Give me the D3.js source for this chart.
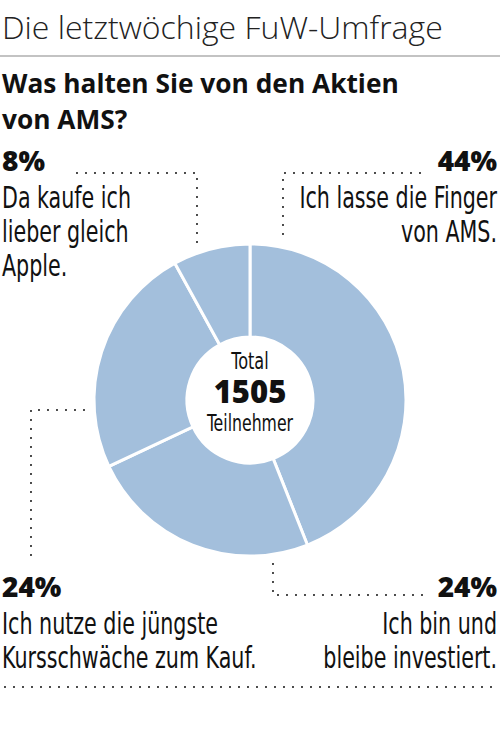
<!DOCTYPE html>
<html>
<head>
<meta charset="utf-8">
<script src="https://cdn.jsdelivr.net/npm/d3@7"></script>
<style>
  body { margin: 0; background: #fff; }
  .narrow { font-family: "Liberation Sans Narrow", "DejaVu Sans Condensed", sans-serif; fill: #111; }
  .pct { font-family: "Open Sans", sans-serif; font-weight: 800; fill: #111; }
</style>
</head>
<body>
<svg id="chart" width="500" height="735"></svg>
<script>
// data
var shares   = [44, 24, 24, 8];
var pctText  = ["44%", "24%", "24%", "8%"];
var answers  = [
    ["Ich lasse die Finger", "von AMS."],
    ["Ich bin und", "bleibe investiert."],
    ["Ich nutze die jüngste", "Kursschwäche zum Kauf."],
    ["Da kaufe ich", "lieber gleich", "Apple."]
];
var title    = "Die letztwöchige FuW-Umfrage";
var question = ["Was halten Sie von den Aktien", "von AMS?"];
var centre   = ["Total", "1505", "Teilnehmer"];

var width = 500, height = 735;
var svg = d3.select("#chart");

// narrow text: squeeze a regular face horizontally
function narrowText(parent, x, y, anchor, size, sx, str) {
    return parent.append("text")
        .attr("class", "narrow")
        .attr("transform", "translate(" + x + "," + y + ") scale(" + sx + ",1)")
        .attr("text-anchor", anchor)
        .style("font-size", size + "px")
        .text(str);
}

// header
svg.append("text")
    .attr("x", 2).attr("y", 39)
    .style("font-family", "'Open Sans', sans-serif")
    .style("font-weight", 300)
    .style("font-size", "32px")
    .style("fill", "#222")
    .text(title);

svg.append("line")
    .attr("x1", 0).attr("x2", width)
    .attr("y1", 56).attr("y2", 56)
    .style("stroke", "#888").style("stroke-width", 1.2);

question.forEach(function(q, i) {
    svg.append("text")
        .attr("x", 2).attr("y", 93 + i * 36)
        .style("font-family", "'Open Sans', sans-serif")
        .style("font-weight", 700)
        .style("font-size", "26.3px")
        .style("fill", "#111")
        .text(q);
});

// donut
var cx = 250, cy = 400;
var pie = d3.pie().sort(null).value(function(d) { return d; });
var arc = d3.arc().innerRadius(63).outerRadius(156);

var g = svg.append("g").attr("transform", "translate(" + cx + "," + cy + ")");
g.selectAll("path.slice")
    .data(pie(shares))
    .enter().append("path")
    .attr("class", "slice")
    .attr("d", arc)
    .style("fill", "#a3bfdc")
    .style("stroke", "#fff")
    .style("stroke-width", 3);

// centre text
narrowText(g, 0, -31, "middle", 23, 0.78, centre[0]);
g.append("text").attr("class", "pct").attr("text-anchor", "middle")
    .attr("y", 3).style("font-size", "31px").text(centre[1]);
narrowText(g, 0, 31, "middle", 23, 0.76, centre[2]);

// labels: side, x, y of percentage baseline
var labelPos = [
    { anchor: "end",   x: 497, y: 171 },
    { anchor: "end",   x: 497, y: 597 },
    { anchor: "start", x: 2,   y: 597 },
    { anchor: "start", x: 2,   y: 171 }
];

labelPos.forEach(function(p, i) {
    svg.append("text").attr("class", "pct")
        .attr("x", p.x).attr("y", p.y)
        .attr("text-anchor", p.anchor)
        .style("font-size", "28px")
        .text(pctText[i]);
    answers[i].forEach(function(line, j) {
        narrowText(svg, p.x, p.y + 37 + j * 34, p.anchor, 30, 0.765, line);
    });
});

// dotted leaders
function dotted(pts) {
    svg.append("path")
        .attr("d", d3.line()(pts))
        .style("fill", "none")
        .style("stroke", "#111")
        .style("stroke-width", 2)
        .style("stroke-linecap", "round")
        .style("stroke-dasharray", "0,9");
}
dotted([[420, 173], [283, 173], [283, 238]]);
dotted([[422, 595], [273, 595], [273, 563]]);
dotted([[84, 410], [31, 410], [31, 560]]);
dotted([[77, 173], [197, 173], [197, 243]]);
dotted([[5, 687], [495, 687]]);
</script>
</body>
</html>
